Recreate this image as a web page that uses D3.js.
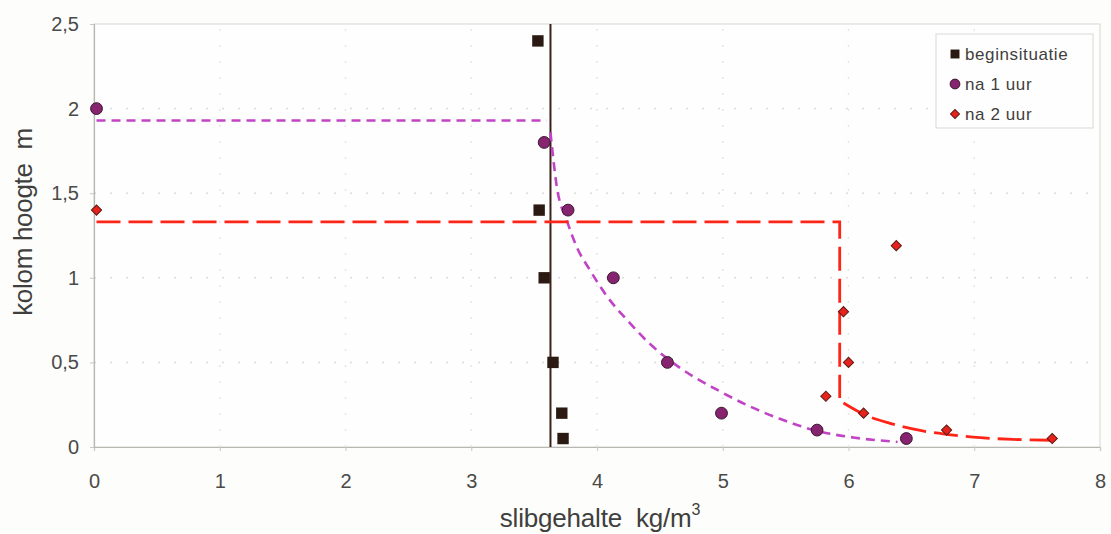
<!DOCTYPE html>
<html>
<head>
<meta charset="utf-8">
<script src="https://cdn.jsdelivr.net/npm/d3@7"></script>
<style>
  html, body { margin: 0; padding: 0; background: #fdfdfb; }
  svg { display: block; font-family: "Liberation Sans", Arial, sans-serif; }
  text { white-space: pre; }
</style>
</head>
<body>
<svg id="chart" width="1111" height="534"></svg>
<script>
// Measurements: concentration (kg/m3) against column height (m)
const beginX = [3.53, 3.54, 3.58, 3.65, 3.72, 3.73];
const beginY = [2.4, 1.4, 1.0, 0.5, 0.2, 0.05];

const uur1X = [0.02, 3.58, 3.77, 4.13, 4.56, 4.99, 5.75, 6.46];
const uur1Y = [2.0, 1.8, 1.4, 1.0, 0.5, 0.2, 0.1, 0.05];

const uur2X = [0.02, 6.38, 5.96, 6.0, 5.82, 6.12, 6.78, 7.62];
const uur2Y = [1.4, 1.19, 0.8, 0.5, 0.3, 0.2, 0.1, 0.05];

// Initial concentration (vertical line)
const beginLineX = 3.63;

// Fitted profile after 1 hour: plateau, then decaying tail
const fit1PlateauX = [0.02, 3.6];
const fit1PlateauY = [1.93, 1.93];
const fit1TailX = [3.63, 3.68, 3.76, 3.84, 3.94, 4.08, 4.24, 4.42, 4.6, 4.78, 4.95, 5.2, 5.46, 5.75, 6.05, 6.39];
const fit1TailY = [1.86, 1.54, 1.34, 1.18, 1.05, 0.89, 0.75, 0.61, 0.5, 0.41, 0.34, 0.245, 0.165, 0.095, 0.055, 0.03];

// Fitted profile after 2 hours: plateau, step, decaying tail
const fit2X = [0.02, 5.93, 5.93];
const fit2Y = [1.33, 1.33, 0.29];
const fit2TailX = [5.96, 6.13, 6.33, 6.59, 6.78, 7.05, 7.31, 7.62];
const fit2TailY = [0.26, 0.19, 0.14, 0.095, 0.075, 0.055, 0.045, 0.04];

const xTicks = [0, 1, 2, 3, 4, 5, 6, 7, 8];
const yTicks = [0, 0.5, 1, 1.5, 2, 2.5];

const seriesNames = ["beginsituatie", "na 1 uur", "na 2 uur"];

const svg = d3.select("#chart");
const m = { left: 94, right: 11, top: 24, bottom: 87 };
const W = 1111, H = 534;
const x = d3.scaleLinear().domain([0, 8]).range([m.left, W - m.right]);
const y = d3.scaleLinear().domain([0, 2.5]).range([H - m.bottom, m.top]);
const fmt = d => String(d).replace(".", ",");

// plot background
svg.append("rect")
  .attr("x", x(0)).attr("y", y(2.5))
  .attr("width", x(8) - x(0)).attr("height", y(0) - y(2.5))
  .attr("fill", "#fefefe").attr("stroke", "#d6d6d2").attr("stroke-width", 1);

// dotted grid
const grid = svg.append("g");
grid.selectAll("line.h").data(yTicks.slice(1, -1)).join("line")
  .attr("x1", x(0)).attr("x2", x(8))
  .attr("y1", d => y(d)).attr("y2", d => y(d))
  .attr("stroke", "#dcdcdc").attr("stroke-width", 1.5).attr("stroke-dasharray", "2,14");
grid.selectAll("line.v").data(xTicks.slice(1, -1)).join("line")
  .attr("y1", y(0)).attr("y2", y(2.5))
  .attr("x1", d => x(d)).attr("x2", d => x(d))
  .attr("stroke", "#e6e6e6").attr("stroke-width", 1.5).attr("stroke-dasharray", "2,14");

// axes
const xAxis = svg.append("g").attr("transform", `translate(0,${y(0)})`)
  .call(d3.axisBottom(x).tickValues(xTicks).tickFormat(fmt).tickSize(4).tickPadding(23));
const yAxis = svg.append("g").attr("transform", `translate(${x(0)},0)`)
  .call(d3.axisLeft(y).tickValues(yTicks).tickFormat(fmt).tickSize(4).tickPadding(11));
[xAxis, yAxis].forEach(a => {
  a.select(".domain").attr("stroke", "#b8b8b2").attr("stroke-width", 1.2);
  a.selectAll(".tick line").attr("stroke", "#c8c8c4");
  a.selectAll(".tick text").attr("fill", "#4a4a48").attr("font-size", 20)
    .attr("font-family", "Liberation Sans, Arial, sans-serif");
});

// axis titles
svg.append("text")
  .attr("transform", `translate(32,222) rotate(-90)`)
  .attr("text-anchor", "middle").attr("font-size", 26).attr("fill", "#3f3f3d")
  .attr("letter-spacing", -0.3)
  .text("kolom hoogte  m");
const xt = svg.append("text")
  .attr("x", 600).attr("y", 527)
  .attr("text-anchor", "middle").attr("font-size", 26).attr("fill", "#3f3f3d")
  .attr("letter-spacing", -0.2);
xt.append("tspan").text("slibgehalte  kg/m");
xt.append("tspan").attr("dy", -12).attr("font-size", 16).text("3");

// vertical line for initial concentration
svg.append("line")
  .attr("x1", x(beginLineX)).attr("x2", x(beginLineX))
  .attr("y1", y(2.5)).attr("y2", y(0))
  .attr("stroke", "#3a2218").attr("stroke-width", 2);

const line = d3.line().x(d => x(d[0])).y(d => y(d[1]));
const smooth = d3.line().x(d => x(d[0])).y(d => y(d[1])).curve(d3.curveMonotoneX);

// fit after 1 hour (purple, short dashes)
svg.append("path")
  .datum(d3.zip(fit1PlateauX, fit1PlateauY))
  .attr("d", line).attr("fill", "none")
  .attr("stroke", "#c143c6").attr("stroke-width", 2.6).attr("stroke-dasharray", "9,6");
svg.append("path")
  .datum(d3.zip(fit1TailX, fit1TailY))
  .attr("d", smooth).attr("fill", "none")
  .attr("stroke", "#c143c6").attr("stroke-width", 2.6).attr("stroke-dasharray", "9,6");

// fit after 2 hours (red, long dashes)
svg.append("path")
  .datum(d3.zip(fit2X, fit2Y))
  .attr("d", line).attr("fill", "none")
  .attr("stroke", "#ff2418").attr("stroke-width", 2.8).attr("stroke-dasharray", "24,8");
svg.append("path")
  .datum(d3.zip(fit2TailX, fit2TailY))
  .attr("d", smooth).attr("fill", "none")
  .attr("stroke", "#ff2418").attr("stroke-width", 2.8).attr("stroke-dasharray", "24,8");

// markers
const squareSym = d3.symbol().type(d3.symbolSquare).size(130);
const circleSym = d3.symbol().type(d3.symbolCircle).size(110);
const diamondSym = d3.symbol().type(d3.symbolSquare).size(52); // drawn rotated 45°

svg.append("g").selectAll("path").data(d3.zip(beginX, beginY)).join("path")
  .attr("transform", d => `translate(${x(d[0])},${y(d[1])})`)
  .attr("d", squareSym).attr("fill", "#2a1a12");
svg.append("g").selectAll("path").data(d3.zip(uur1X, uur1Y)).join("path")
  .attr("transform", d => `translate(${x(d[0])},${y(d[1])})`)
  .attr("d", circleSym).attr("fill", "#86246f").attr("stroke", "#3a1630").attr("stroke-width", 1);
svg.append("g").selectAll("path").data(d3.zip(uur2X, uur2Y)).join("path")
  .attr("transform", d => `translate(${x(d[0])},${y(d[1])}) rotate(45)`)
  .attr("d", diamondSym).attr("fill", "#e8211c").attr("stroke", "#5a1a14").attr("stroke-width", 1);

// legend
const lg = svg.append("g").attr("transform", "translate(936,34)");
lg.append("rect").attr("width", 157).attr("height", 94)
  .attr("fill", "#fefefe").attr("stroke", "#d8d8d4");
const legendSyms = [
  { sym: d3.symbol().type(d3.symbolSquare).size(80), fill: "#2a1a12", stroke: "none", rot: 0 },
  { sym: d3.symbol().type(d3.symbolCircle).size(75), fill: "#86246f", stroke: "#3a1630", rot: 0 },
  { sym: d3.symbol().type(d3.symbolSquare).size(40), fill: "#e8211c", stroke: "#5a1a14", rot: 45 }
];
seriesNames.forEach((name, i) => {
  const gy = 20 + i * 30;
  lg.append("path").attr("transform", `translate(19,${gy}) rotate(${legendSyms[i].rot})`)
    .attr("d", legendSyms[i].sym).attr("fill", legendSyms[i].fill)
    .attr("stroke", legendSyms[i].stroke);
  lg.append("text").attr("x", 29).attr("y", gy + 6)
    .attr("font-size", 17).attr("letter-spacing", 0.6)
    .attr("fill", "#3f3f3d").text(name);
});
</script>
</body>
</html>
